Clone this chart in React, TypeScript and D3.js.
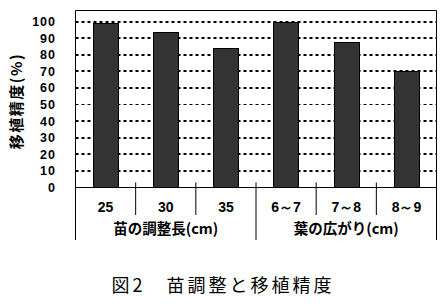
import React from "react";
import * as d3 from "d3";

const categories = ["25", "30", "35", "6～7", "7～8", "8～9"];
const values = [99, 94, 84, 100, 88, 70];
const groupLabels = ["苗の調整長(cm)", "葉の広がり(cm)"];
const groupSizes = [3, 3];
const yTicks = [0, 10, 20, 30, 40, 50, 60, 70, 80, 90, 100];
const yLabel = "移植精度(%)";
const title = "図2　苗調整と移植精度";

const W = 446;
const H = 305;
const left = 75.5;
const right = 436.5;

export default function App() {
  const y = d3.scaleLinear().domain([0, 100]).range([187.2, 21.7]);
  const x = d3
    .scaleBand<string>()
    .domain(categories)
    .range([left, right])
    .paddingInner(0.58)
    .paddingOuter(0.29);
  const step = x.step();
  const x0 = left;
  const yTop = 10.5;
  const yBase = Math.round(y(0)) + 0.5;
  const cjk = "'Noto Sans CJK JP', 'Liberation Sans', sans-serif";
  const num = "'Liberation Sans', Arial, sans-serif";

  const boundaries = d3.range(categories.length + 1).map((i) => x0 + i * step);
  const groupEdges: number[] = [0];
  groupSizes.forEach((s, i) => groupEdges.push(groupEdges[i] + s));

  return (
    <svg
      width={W}
      height={H}
      style={{ position: "absolute", left: 0, top: 0, background: "#fff" }}
    >
      {/* gridlines */}
      {yTicks
        .filter((t) => t > 0)
        .map((t) => (
          <line
            key={"g" + t}
            x1={left}
            x2={right}
            y1={t === 50 ? Math.round(y(t)) + 0.5 : Math.round(y(t))}
            y2={t === 50 ? Math.round(y(t)) + 0.5 : Math.round(y(t))}
            stroke="#000"
            strokeWidth={t === 50 ? 1 : 2}
            strokeDasharray="3,3"
          />
        ))}
      {/* bars */}
      {categories.map((c, i) => (
        <rect
          key={"b" + c}
          x={Math.round(x(c)!) + 0.5}
          y={Math.round(y(values[i])) + 0.5}
          width={Math.round(x.bandwidth())}
          height={Math.round(y(0)) - Math.round(y(values[i]))}
          fill="#333333"
          stroke="#000"
          strokeWidth={1}
        />
      ))}
      {/* frame */}
      <line x1={left} x2={right} y1={yTop} y2={yTop} stroke="#000" />
      <line x1={left} x2={right} y1={yBase} y2={yBase} stroke="#000" />
      {/* category separators */}
      {boundaries.map((bx, i) => {
        const isGroupEdge = groupEdges.includes(i);
        const isOuter = i === 0 || i === categories.length;
        return (
          <line
            key={"s" + i}
            x1={bx}
            x2={bx}
            y1={isOuter ? yTop : 182.5}
            y2={isGroupEdge ? 240 : 215}
            stroke="#000"
          />
        );
      })}
      {/* y tick labels */}
      {yTicks.map((t) => (
        <text
          key={"t" + t}
          x={56}
          y={y(t)}
          dy="0.36em"
          textAnchor="end"
          fontFamily={num}
          fontWeight="bold"
          fontSize={12.5}
          letterSpacing={1}
        >
          {t}
        </text>
      ))}
      {/* y label */}
      <text
        transform={`translate(21.5,101) rotate(-90)`}
        textAnchor="middle"
        fontFamily={cjk}
        fontWeight="bold"
        fontSize={15}
        letterSpacing={1.5}
      >
        {yLabel}
      </text>
      {/* category labels */}
      {categories.map((c) => (
        <text
          key={"c" + c}
          x={x(c)! + x.bandwidth() / 2}
          y={211.5}
          textAnchor="middle"
          fontFamily={num}
          fontWeight="bold"
          fontSize={14}
        >
          {c}
        </text>
      ))}
      {/* group labels */}
      {groupLabels.map((g, i) => (
        <text
          key={"gl" + i}
          x={x0 + ((groupEdges[i] + groupEdges[i + 1]) / 2) * step}
          y={233.5}
          textAnchor="middle"
          fontFamily={cjk}
          fontWeight="bold"
          fontSize={14.5}
        >
          {g}
        </text>
      ))}
      {/* title */}
      <text
        x={W / 2}
        y={292}
        textAnchor="middle"
        fontFamily={cjk}
        fontSize={18}
        letterSpacing={3}
      >
        {title}
      </text>
    </svg>
  );
}
